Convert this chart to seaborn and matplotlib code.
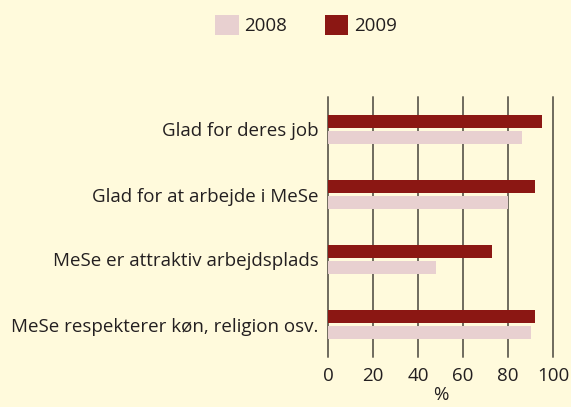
import pandas as pd
import numpy as np
import matplotlib
matplotlib.use("Agg")
import matplotlib.pyplot as plt
import seaborn as sns
from matplotlib.patches import Patch

# Values (%)
statements = ['Glad for deres job', 'Glad for at arbejde i MeSe',
              'MeSe er attraktiv arbejdsplads', 'MeSe respekterer køn, religion osv.']
values_2008 = [86, 80, 48, 90]
values_2009 = [95, 92, 73, 92]
years = ['2008', '2009']
xticks = [0, 20, 40, 60, 80, 100]

bg = '#FFFADC'
col_2008 = '#E8D0D0'
col_2009 = '#8B1713'
grid_col = '#6F6B5E'
text_col = '#231F20'

df = pd.DataFrame({
    'statement': statements * 2,
    'year': ['2008'] * len(statements) + ['2009'] * len(statements),
    'value': values_2008 + values_2009,
})

sns.set_style("white")
plt.rcParams['font.family'] = ['Open Sans', 'DejaVu Sans']
plt.rcParams['text.color'] = text_col

fig = plt.figure(figsize=(5.71, 4.07), dpi=100, facecolor=bg)
ax = fig.add_axes([328 / 571, 1 - 357 / 407, 225 / 571, 260 / 407])
ax.set_facecolor(bg)

# 2009 drawn on top within each group
sns.barplot(data=df, y='statement', x='value', hue='year', hue_order=['2009', '2008'],
            order=statements, palette={'2008': col_2008, '2009': col_2009},
            orient='h', width=0.49, gap=0.19, saturation=1, legend=False,
            linewidth=0, ax=ax)

ax.set_xlim(0, 100)
ax.set_ylim(3.5, -0.5)
ax.set_xticks(xticks)
ax.set_xticklabels([str(t) for t in xticks])
ax.xaxis.grid(True, color=grid_col, linewidth=1.4)
for gl in ax.get_xgridlines():
    gl.set_clip_on(False)
ax.set_axisbelow(True)
for s in ax.spines.values():
    s.set_visible(False)
ax.tick_params(axis='both', length=0, labelsize=13.5, colors=text_col)
ax.tick_params(axis='x', pad=7)
ax.tick_params(axis='y', pad=7)
ax.set_ylabel('')
ax.set_xlabel('%', fontsize=13.5, labelpad=1, color=text_col)

handles = [Patch(facecolor=col_2008, edgecolor='none'), Patch(facecolor=col_2009, edgecolor='none')]
fig.legend(handles, years, loc='center', bbox_to_anchor=(306 / 571, 1 - 25 / 407), ncol=2,
           frameon=False, fontsize=13.5, handlelength=1.25, handleheight=1.25,
           handletextpad=0.3, columnspacing=2.0)

fig.savefig('out.png', dpi=100, facecolor=bg)
